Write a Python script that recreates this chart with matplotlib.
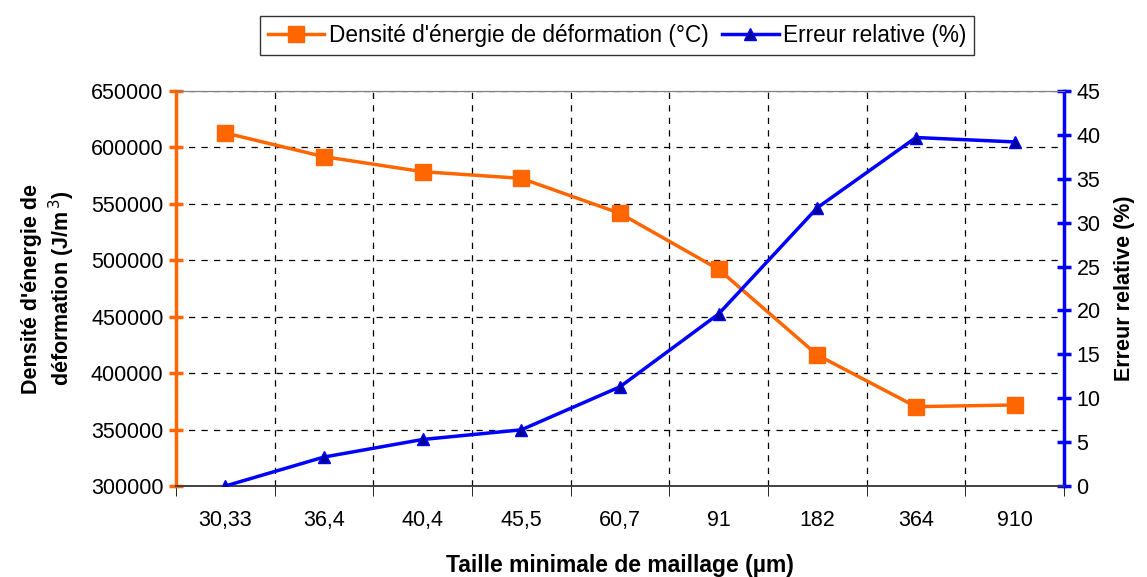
import matplotlib
matplotlib.use('Agg')
import matplotlib.pyplot as plt
import numpy as np

plt.rcParams['font.family'] = ['Liberation Sans', 'DejaVu Sans']

categories = ['30,33', '36,4', '40,4', '45,5', '60,7', '91', '182', '364', '910']
energy = [612800, 591800, 578500, 572600, 541600, 492000, 416100, 370300, 371800]
error = [0.0, 3.3, 5.3, 6.4, 11.3, 19.6, 31.7, 39.7, 39.2]

orange = '#ff6600'
blue = '#0000ff'

fig = plt.figure(figsize=(11.47, 5.77), dpi=100)
ax = fig.add_axes([0.1534, 0.1577, 0.7742, 0.6846])
ax2 = ax.twinx()

x = np.arange(len(categories))
l1, = ax.plot(x, energy, color=orange, lw=2.5, marker='s', ms=12, mfc=orange, mec=orange,
              label="Densité d'énergie de déformation (°C)", zorder=3)
l2, = ax2.plot(x, error, color=blue, lw=2.5, marker='^', ms=9, mfc='#000099', mec=blue,
               label='Erreur relative (%)', zorder=3)

ax.set_xlim(-0.5, len(categories) - 0.5)
ax.set_ylim(300000, 650000)
ax.set_yticks(np.arange(300000, 650001, 50000))
ax2.set_ylim(0, 45)
ax2.set_yticks(np.arange(0, 46, 5))

# category ticks with labels, gridlines at the category boundaries
ax.set_xticks(x)
ax.set_xticklabels(categories, fontsize=15.5)
ax.set_xticks(np.arange(-0.5, len(categories) - 0.4, 1), minor=True)
ax.tick_params(axis='x', which='major', length=0, pad=17)
ax.tick_params(axis='x', which='minor', length=7, direction='out', color='black')
ax.grid(True, which='minor', axis='x', color='black', ls=(0, (5, 5)), lw=0.9)
ax.grid(True, which='major', axis='y', color='black', ls=(0, (5, 5)), lw=0.9)
ax.set_axisbelow(True)

ax.tick_params(axis='y', which='major', direction='inout', length=10, width=2.5,
               color=orange, labelsize=15.5, pad=4)
ax2.tick_params(axis='y', which='major', direction='inout', length=10, width=2.5,
                color=blue, labelsize=15.5, pad=4)

ax.spines['left'].set_color(orange)
ax.spines['left'].set_linewidth(2.5)
ax2.spines['left'].set_visible(False)
ax2.spines['right'].set_color(blue)
ax2.spines['right'].set_linewidth(2.5)
ax.spines['right'].set_visible(False)
for a in (ax, ax2):
    a.spines['top'].set_color('#808080')
    a.spines['bottom'].set_color('#404040')
    a.spines['bottom'].set_linewidth(1.2)

ax.set_xlabel('Taille minimale de maillage (µm)', fontsize=16.5, fontweight='bold', labelpad=17)
ax.set_ylabel("Densité d'énergie de\ndéformation (J/m$^{\\,3}$)", fontsize=15.5,
              fontweight='bold', labelpad=10)
ax2.set_ylabel('Erreur relative (%)', fontsize=15.5, fontweight='bold', labelpad=10)

leg = fig.legend(handles=[l1, l2], loc='upper center', bbox_to_anchor=(0.538, 0.992),
                 ncol=2, fontsize=16.3, frameon=True, fancybox=False, edgecolor='black',
                 handlelength=2.5, handletextpad=0.2, columnspacing=0.6,
                 borderpad=0.35)
leg.get_frame().set_linewidth(1.0)

fig.savefig('out.png', dpi=100)
